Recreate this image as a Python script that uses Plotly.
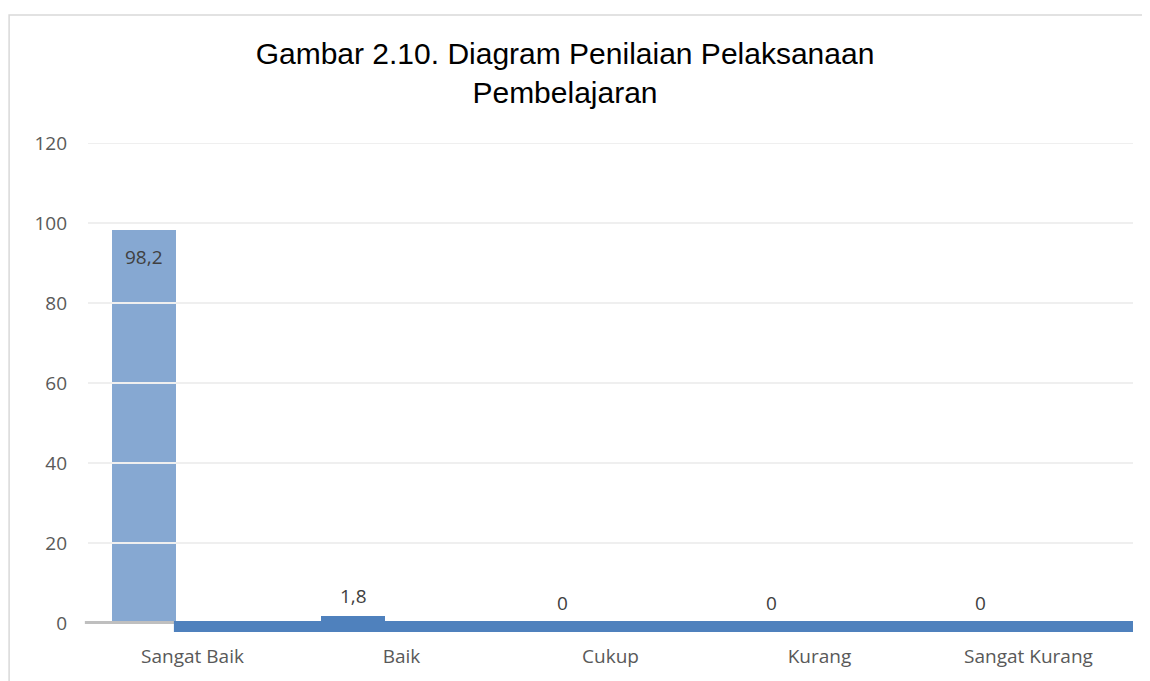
import plotly.graph_objects as go

# Data
categories = ['Sangat Baik', 'Baik', 'Cukup', 'Kurang', 'Sangat Kurang']
values = [98.2, 1.8, 0, 0, 0]
y_ticks = [0, 20, 40, 60, 80, 100, 120]

title_text = 'Gambar 2.10. Diagram Penilaian Pelaksanaan<br>Pembelajaran'

# The page body has an 8px margin, so the figure is a bit smaller than the window
W, H = 1142, 673

bar_offset = -0.385
bar_width = 0.306
band_color = '#4f81bd'
label_font = dict(family='Open Sans', size=19, color='#404040')

fig = go.Figure()

fig.add_trace(go.Bar(x = categories,
                     y = values,
                     offset = bar_offset,
                     width = bar_width,
                     marker = dict(color = ['#86a8d2' if v > 10 else band_color for v in values],
                                   line = dict(width = 0)),
                     showlegend = False,
                     hoverinfo = 'skip'))

# Data labels (comma as decimal separator, like the original)
for i, v in enumerate(values):
    txt = f'{v:g}'.replace('.', ',')
    inside = v > 10
    fig.add_annotation(x = i + bar_offset + bar_width / 2,
                       y = v,
                       xref = 'x', yref = 'y',
                       text = txt,
                       showarrow = False,
                       font = label_font,
                       yanchor = 'top' if inside else 'bottom',
                       yshift = -12 if inside else 5)

# Gridlines drawn on top of the bar
for t in y_ticks[1:]:
    fig.add_shape(type = 'line', xref = 'paper', yref = 'y',
                  x0 = 0, x1 = 1, y0 = t, y1 = t,
                  line = dict(color = '#efefef', width = 2),
                  layer = 'above')

# Axis line at zero and the blue baseline band
fig.add_shape(type = 'line', xref = 'paper', yref = 'y',
              x0 = -0.003, x1 = 1, y0 = 0.1, y1 = 0.1,
              line = dict(color = '#bfbfbf', width = 3),
              layer = 'above')
fig.add_shape(type = 'rect', xref = 'x', yref = 'y',
              x0 = bar_offset + bar_width - 0.01, x1 = 4.5,
              y0 = -2.25, y1 = 0.5,
              line = dict(width = 0),
              fillcolor = band_color,
              layer = 'above')

# Chart border
fig.add_shape(type = 'rect', xref = 'paper', yref = 'paper',
              x0 = -0.0755, x1 = 1.2, y0 = -0.3, y1 = 1.260,
              line = dict(color = '#d9d9d9', width = 1.5),
              fillcolor = 'rgba(0,0,0,0)')

fig.update_layout(width = W, height = H,
                  margin = dict(l = 80, r = 17, t = 135, b = 46),
                  paper_bgcolor = 'white',
                  plot_bgcolor = 'white',
                  title = dict(text = title_text,
                               x = 557 / W, xanchor = 'center',
                               y = 1 - 56 / H, yanchor = 'top',
                               font = dict(family = 'Liberation Sans', size = 30, color = '#000000')),
                  bargap = 0,
                  showlegend = False)

fig.update_xaxes(showgrid = False, zeroline = False, showline = False,
                 ticks = '', range = [-0.5, 4.5],
                 ticklabelstandoff = 8,
                 tickfont = dict(family = 'Open Sans', size = 19, color = '#595959'))

fig.update_yaxes(range = [-3, 120], tickvals = y_ticks,
                 showgrid = False, zeroline = False, showline = False,
                 ticks = '', ticklabelstandoff = 20,
                 tickfont = dict(family = 'Open Sans', size = 19, color = '#595959'))

fig.write_html('out.html')
